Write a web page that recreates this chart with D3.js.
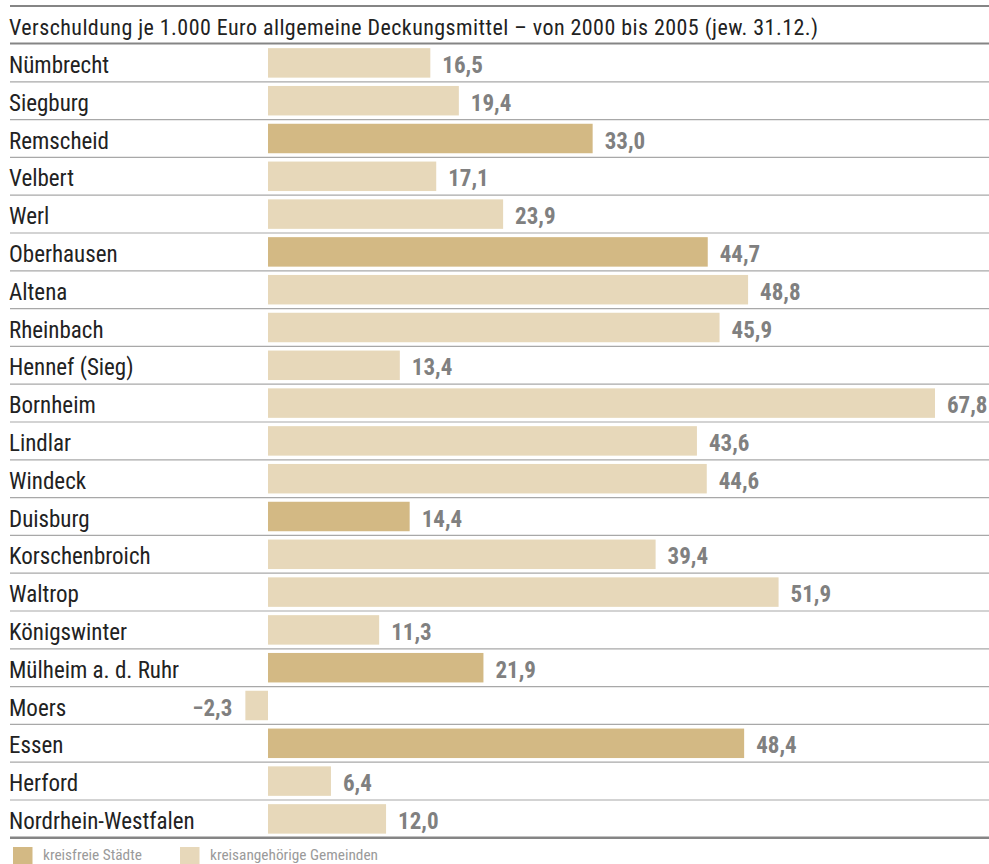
<!DOCTYPE html>
<html>
<head>
<meta charset="utf-8">
<script src="https://cdn.jsdelivr.net/npm/d3@7"></script>
<style>
  html, body { margin: 0; padding: 0; background: #fff; }
  svg { display: block; }
  text { font-family: "Liberation Sans Narrow", "Arial Narrow", "Roboto Condensed", Roboto, sans-serif; }
</style>
</head>
<body>
<svg id="chart" width="989" height="864"></svg>
<script>
// Verschuldung je 1.000 Euro allgemeine Deckungsmittel, Veränderung 2000–2005
const titleText = "Verschuldung je 1.000 Euro allgemeine Deckungsmittel – von 2000 bis 2005 (jew. 31.12.)";
const places = ["Nümbrecht", "Siegburg", "Remscheid", "Velbert", "Werl", "Oberhausen", "Altena",
  "Rheinbach", "Hennef (Sieg)", "Bornheim", "Lindlar", "Windeck", "Duisburg", "Korschenbroich",
  "Waltrop", "Königswinter", "Mülheim a. d. Ruhr", "Moers", "Essen", "Herford", "Nordrhein-Westfalen"];
const values = [16.5, 19.4, 33.0, 17.1, 23.9, 44.7, 48.8, 45.9, 13.4, 67.8, 43.6, 44.6, 14.4, 39.4,
  51.9, 11.3, 21.9, -2.3, 48.4, 6.4, 12.0];
// "kreisfrei" = kreisfreie Stadt, "kreisangehörig" = kreisangehörige Gemeinde
const kinds = ["kreisangehörig", "kreisangehörig", "kreisfrei", "kreisangehörig", "kreisangehörig",
  "kreisfrei", "kreisangehörig", "kreisangehörig", "kreisangehörig", "kreisangehörig", "kreisangehörig",
  "kreisangehörig", "kreisfrei", "kreisangehörig", "kreisangehörig", "kreisangehörig", "kreisfrei",
  "kreisangehörig", "kreisfrei", "kreisangehörig", "kreisangehörig"];
const legendKeys = ["kreisfrei", "kreisangehörig"];
const legendLabels = ["kreisfreie Städte", "kreisangehörige Gemeinden"];

const rows = places.map((p, i) => ({ name: p, value: values[i], kind: kinds[i] }));

const svg = d3.select("#chart");
const fmt = v => (v < 0 ? "\u2212" : "") + d3.format(".1f")(Math.abs(v)).replace(".", ",");

const color = d3.scaleOrdinal().domain(legendKeys).range(["#d3b984", "#e7d8ba"]);

const x = d3.scaleLinear().domain([0, 67.8]).range([268, 935]);
const y = d3.scaleBand().domain(places).range([44, 837.8]).paddingInner(0.22).paddingOuter(0.11);
const step = y.step();

// Title and frame rules
svg.append("line").attr("x1", 10).attr("x2", 989).attr("y1", 6).attr("y2", 6)
  .attr("stroke", "#858585").attr("stroke-width", 2.2);
svg.append("text").attr("x", 9).attr("y", 35).attr("font-size", 22).attr("fill", "#222")
  .attr("textLength", 809).attr("lengthAdjust", "spacing")
  .text(titleText);
svg.append("line").attr("x1", 10).attr("x2", 989).attr("y1", 43.5).attr("y2", 43.5)
  .attr("stroke", "#858585").attr("stroke-width", 2.2);

// Row separators
svg.append("g").selectAll("line").data(places.slice(1)).join("line")
  .attr("x1", 10).attr("x2", 989)
  .attr("y1", (d, i) => 44 + (i + 1) * step).attr("y2", (d, i) => 44 + (i + 1) * step)
  .attr("stroke", "#a8a8a8").attr("stroke-width", 1.2);

svg.append("line").attr("x1", 10).attr("x2", 989).attr("y1", 837.8).attr("y2", 837.8)
  .attr("stroke", "#858585").attr("stroke-width", 2.6);

// Bars
svg.append("g").selectAll("rect").data(rows).join("rect")
  .attr("x", d => x(Math.min(0, d.value)))
  .attr("width", d => Math.abs(x(d.value) - x(0)))
  .attr("y", d => y(d.name))
  .attr("height", y.bandwidth())
  .attr("fill", d => color(d.kind));

// Category labels
svg.append("g").selectAll("text").data(rows).join("text")
  .attr("x", 9)
  .attr("y", d => y(d.name) + y.bandwidth() / 2 + 10)
  .attr("font-size", 23).attr("fill", "#222")
  .text(d => d.name);

// Value labels
svg.append("g").selectAll("text").data(rows).join("text")
  .attr("x", d => d.value < 0 ? x(d.value) - 13 : x(d.value) + 12)
  .attr("text-anchor", d => d.value < 0 ? "end" : "start")
  .attr("y", d => y(d.name) + y.bandwidth() / 2 + 10)
  .attr("font-size", 23).attr("font-weight", "bold").attr("fill", "#808080")
  .text(d => fmt(d.value));

// Legend
const lg = svg.append("g").selectAll("g").data(legendKeys).join("g")
  .attr("transform", (d, i) => `translate(${[13, 180][i]},847)`);
lg.append("rect").attr("width", 19.5).attr("height", 17).attr("fill", d => color(d));
lg.append("text").attr("x", 30).attr("y", 13).attr("font-size", 15.3).attr("fill", "#9a9a9a")
  .text((d, i) => legendLabels[i]);
</script>
</body>
</html>
